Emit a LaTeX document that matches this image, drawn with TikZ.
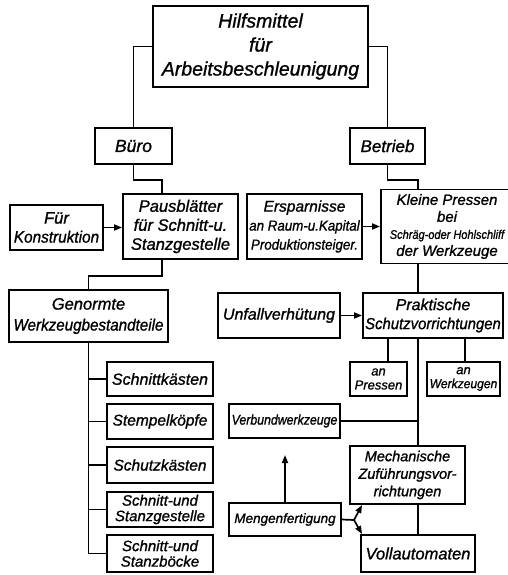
\documentclass[tikz,border=0pt]{standalone}
\usepackage{graphicx}
\usepackage{fontspec}
\setmainfont{Liberation Sans}[ItalicFeatures={FakeBold=1.1}]
\usetikzlibrary{arrows.meta}
\newcommand\myfs[2]{\fontsize{#1}{#2}\selectfont\itshape}
\newcommand\hsc[2]{\scalebox{#1}[1]{#2}}
\tikzset{
  bx/.style={draw, line width=1.9pt, inner sep=0pt, align=center},
  ln/.style={line width=1.7pt},
  ar/.style={line width=1.7pt, -{Triangle[length=8pt,width=6pt]}},
}
\begin{document}
\begin{tikzpicture}[x=1pt,y=-1pt]
\useasboundingbox (0,0) rectangle (507,575);
\node[bx, minimum width=215, minimum height=81, font=\myfs{19.5}{24}] (top) at (260.5,46.5)
  {Hilfsmittel\\für\\Arbeitsbeschleunigung};
\node[bx, minimum width=77, minimum height=36, font=\myfs{17.5}{18}] (buero) at (133.5,146) {Büro};
\node[bx, minimum width=75, minimum height=36, font=\myfs{17}{18}] (betrieb) at (387.5,146) {Betrieb};
\node[bx, minimum width=93, minimum height=45, font=\myfs{16.5}{19}] (fuer) at (56.5,227.5) {Für\\\hsc{0.93}{Konstruktion}};
\node[bx, minimum width=115, minimum height=65, font=\myfs{16.5}{19}] (paus) at (180.5,226.5)
  {Pausblätter\\für Schnitt-u.\\Stanzgestelle};
\node[bx, minimum width=115, minimum height=65, font=\myfs{15.5}{19}] (ersp) at (304.5,226.5)
  {Ersparnisse\\\myfs{14.5}{19}\hsc{0.92}{an Raum-u.Kapital}\\\myfs{14.5}{19}\hsc{0.92}{Produktionsteiger.}};
\node[bx, minimum width=132, minimum height=74, font=\myfs{15}{17}] (klein) at (447,226.5)
  {Kleine Pressen\\bei\\\myfs{12.5}{17}\hsc{0.88}{Schräg-oder Hohlschliff}\\der Werkzeuge};
\node[bx, minimum width=159, minimum height=52, font=\myfs{16.5}{21}] (genormte) at (88.5,316)
  {Genormte\\\hsc{0.92}{Werkzeugbestandteile}};
\node[bx, minimum width=122, minimum height=45, font=\myfs{16}{18}] (unfall) at (279,315.5) {Unfallverhütung};
\node[bx, minimum width=140, minimum height=45, font=\myfs{16}{19}] (prakt) at (433,315.5)
  {Praktische\\\hsc{0.93}{Schutzvorrichtungen}};
\node[bx, minimum width=57, minimum height=34, font=\myfs{13}{14}] (anpress) at (378.5,379) {an\\Pressen};
\node[bx, minimum width=73, minimum height=34, font=\myfs{13}{14}] (anwerk) at (463.5,379) {an\\\hsc{0.93}{Werkzeugen}};
\node[bx, minimum width=106, minimum height=34, font=\myfs{16}{16}] (schnittk) at (160,379) {Schnittkästen};
\node[bx, minimum width=106, minimum height=35, font=\myfs{15.5}{16}] (stempel) at (160,421.5) {Stempelköpfe};
\node[bx, minimum width=106, minimum height=36, font=\myfs{15.5}{16}] (schutz) at (160,465) {Schutzkästen};
\node[bx, minimum width=106, minimum height=35, font=\myfs{15}{15.5}] (sgest) at (160,509.5) {Schnitt-und\\Stanzgestelle};
\node[bx, minimum width=106, minimum height=37, font=\myfs{15}{15.5}] (sboeck) at (160,553.5) {Schnitt-und\\Stanzböcke};
\node[bx, minimum width=111, minimum height=34, font=\myfs{14}{14}] (verbund) at (284.5,421) {\hsc{0.88}{Verbundwerkzeuge}};
\node[bx, minimum width=115, minimum height=58, font=\myfs{14.5}{17.5}] (mech) at (407.5,475)
  {Mechanische\\Zuführungsvor-\\richtungen};
\node[bx, minimum width=114, minimum height=37, font=\myfs{16.5}{18}] (voll) at (418,553.5) {Vollautomaten};
\node[bx, minimum width=112, minimum height=33, font=\myfs{13.5}{15}] (mengen) at (285,519.5) {Mengenfertigung};
% connectors
\draw[ln] (top.west) -| (buero.north);
\draw[ln] (top.east) -| (betrieb.north);
\draw[ln] (buero.south) -- ++(0,15) -| ([xshift=-18.5]paus.north);
\draw[ln] (betrieb.south) -- ++(0,15) -| ([xshift=-29]klein.north);
\draw[ar] (fuer.east) -- (fuer.east -| paus.west);
\draw[ar] (ersp.east) -- (ersp.east -| klein.west);
\draw[ln] ([xshift=-18.5]paus.south) -- ++(0,16) -| (genormte.north);
\draw[ln] ([xshift=-29]klein.south) -- ([xshift=-15]prakt.north);
\draw[ar] (unfall.east) -- (unfall.east -| prakt.west);
\draw[ln] ([xshift=9.5]anpress.north) -- ([xshift=9.5]anpress.north |- prakt.south);
\draw[ln] ([xshift=1.5]anwerk.north) -- ([xshift=1.5]anwerk.north |- prakt.south);
\coordinate (mv) at ([xshift=10.5]mech.north);
\draw[ln] ([xshift=-15]prakt.south) -- (mv);
\draw[ln] (verbund.east) -- (verbund.east -| mv);
\draw[ln] ([xshift=10.5]mech.south) -- (voll.north);
\draw[ln] (genormte.south) |- (sboeck.west);
\draw[ln] (schnittk.west) -- (schnittk.west -| genormte.south);
\draw[ln] (stempel.west) -- (stempel.west -| genormte.south);
\draw[ln] (schutz.west) -- (schutz.west -| genormte.south);
\draw[ln] (sgest.west) -- (sgest.west -| genormte.south);
\coordinate (mtip) at (285,455);
\draw[ar] (mengen.north) -- (mtip);
\coordinate (fork) at (354,520);
\draw[ln] (mengen.east) -- (fork);
\draw[ar] (fork) -- ([xshift=13]mech.south west);
\draw[ar] (fork) -- ([xshift=2]voll.north west);
\end{tikzpicture}
\end{document}
